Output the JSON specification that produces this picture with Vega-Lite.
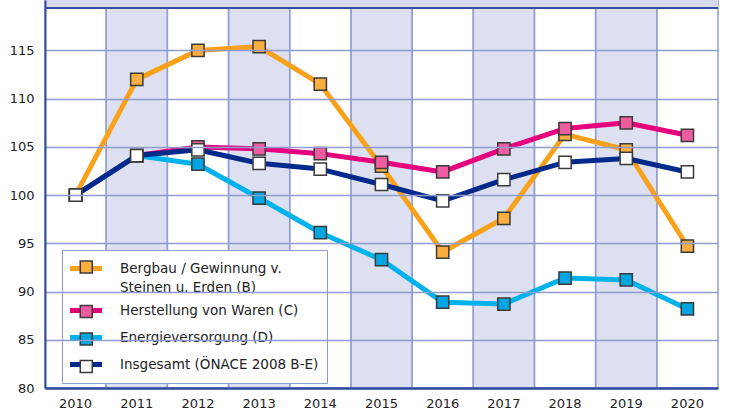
{
  "$schema": "https://vega.github.io/schema/vega-lite/v6.json",
  "width": 673,
  "height": 388,
  "autosize": {"type": "none"},
  "padding": {"left": 45, "top": 0, "right": 22, "bottom": 24},
  "background": "white",
  "config": {"view": {"stroke": null}, "font": "DejaVu Sans", "style": {"guide-label": {"lineHeight": 19}}},
  "datasets": {
    "years": [
      {"year": 2010}, {"year": 2011}, {"year": 2012}, {"year": 2013}, {"year": 2014}, {"year": 2015},
      {"year": 2016}, {"year": 2017}, {"year": 2018}, {"year": 2019}, {"year": 2020}
    ],
    "series": [
      {"year": 2010, "series": "Bergbau / Gewinnung v. Steinen u. Erden (B)", "value": 100},
      {"year": 2011, "series": "Bergbau / Gewinnung v. Steinen u. Erden (B)", "value": 112.0},
      {"year": 2012, "series": "Bergbau / Gewinnung v. Steinen u. Erden (B)", "value": 115.0},
      {"year": 2013, "series": "Bergbau / Gewinnung v. Steinen u. Erden (B)", "value": 115.4},
      {"year": 2014, "series": "Bergbau / Gewinnung v. Steinen u. Erden (B)", "value": 111.5},
      {"year": 2015, "series": "Bergbau / Gewinnung v. Steinen u. Erden (B)", "value": 103.0},
      {"year": 2016, "series": "Bergbau / Gewinnung v. Steinen u. Erden (B)", "value": 94.1},
      {"year": 2017, "series": "Bergbau / Gewinnung v. Steinen u. Erden (B)", "value": 97.6},
      {"year": 2018, "series": "Bergbau / Gewinnung v. Steinen u. Erden (B)", "value": 106.3},
      {"year": 2019, "series": "Bergbau / Gewinnung v. Steinen u. Erden (B)", "value": 104.7},
      {"year": 2020, "series": "Bergbau / Gewinnung v. Steinen u. Erden (B)", "value": 94.7},
      {"year": 2010, "series": "Herstellung von Waren (C)", "value": 100},
      {"year": 2011, "series": "Herstellung von Waren (C)", "value": 104.1},
      {"year": 2012, "series": "Herstellung von Waren (C)", "value": 105.0},
      {"year": 2013, "series": "Herstellung von Waren (C)", "value": 104.8},
      {"year": 2014, "series": "Herstellung von Waren (C)", "value": 104.3},
      {"year": 2015, "series": "Herstellung von Waren (C)", "value": 103.4},
      {"year": 2016, "series": "Herstellung von Waren (C)", "value": 102.4},
      {"year": 2017, "series": "Herstellung von Waren (C)", "value": 104.8},
      {"year": 2018, "series": "Herstellung von Waren (C)", "value": 106.9},
      {"year": 2019, "series": "Herstellung von Waren (C)", "value": 107.5},
      {"year": 2020, "series": "Herstellung von Waren (C)", "value": 106.2},
      {"year": 2010, "series": "Energieversorgung (D)", "value": 100},
      {"year": 2011, "series": "Energieversorgung (D)", "value": 104.1},
      {"year": 2012, "series": "Energieversorgung (D)", "value": 103.2},
      {"year": 2013, "series": "Energieversorgung (D)", "value": 99.7},
      {"year": 2014, "series": "Energieversorgung (D)", "value": 96.1},
      {"year": 2015, "series": "Energieversorgung (D)", "value": 93.3},
      {"year": 2016, "series": "Energieversorgung (D)", "value": 88.9},
      {"year": 2017, "series": "Energieversorgung (D)", "value": 88.7},
      {"year": 2018, "series": "Energieversorgung (D)", "value": 91.4},
      {"year": 2019, "series": "Energieversorgung (D)", "value": 91.2},
      {"year": 2020, "series": "Energieversorgung (D)", "value": 88.2},
      {"year": 2010, "series": "Insgesamt (ÖNACE 2008 B-E)", "value": 100},
      {"year": 2011, "series": "Insgesamt (ÖNACE 2008 B-E)", "value": 104.1},
      {"year": 2012, "series": "Insgesamt (ÖNACE 2008 B-E)", "value": 104.7},
      {"year": 2013, "series": "Insgesamt (ÖNACE 2008 B-E)", "value": 103.3},
      {"year": 2014, "series": "Insgesamt (ÖNACE 2008 B-E)", "value": 102.7},
      {"year": 2015, "series": "Insgesamt (ÖNACE 2008 B-E)", "value": 101.1},
      {"year": 2016, "series": "Insgesamt (ÖNACE 2008 B-E)", "value": 99.4},
      {"year": 2017, "series": "Insgesamt (ÖNACE 2008 B-E)", "value": 101.6},
      {"year": 2018, "series": "Insgesamt (ÖNACE 2008 B-E)", "value": 103.4},
      {"year": 2019, "series": "Insgesamt (ÖNACE 2008 B-E)", "value": 103.8},
      {"year": 2020, "series": "Insgesamt (ÖNACE 2008 B-E)", "value": 102.4}
    ]
  },
  "layer": [
    {
      "data": {"name": "years"},
      "mark": {"type": "rect", "fillOpacity": 0.27, "stroke": "#96a0d3", "strokeWidth": 1.5, "strokeOpacity": 1},
      "encoding": {
        "x": {
          "field": "year", "type": "ordinal",
          "scale": {"type": "band", "paddingInner": 0, "paddingOuter": 0},
          "axis": {"title": null, "labelAngle": 0, "ticks": false, "grid": false, "labelFontSize": 13, "labelColor": "#222222", "labelPadding": 9, "domainColor": "#2f4d9f", "domainWidth": 2.5, "zindex": 1}
        },
        "fill": {"condition": {"test": "datum.year % 2 == 1", "value": "#7c8ccc"}, "value": "transparent"}
      }
    },
    {
      "data": {"values": [{}]},
      "mark": {"type": "rect", "fill": "#d6daee"},
      "encoding": {"y": {"datum": 119.4, "type": "quantitative"}, "y2": {"datum": 120.23}}
    },
    {
      "data": {"values": [{}]},
      "mark": {"type": "rule", "stroke": "#2f4d9f", "strokeWidth": 2},
      "encoding": {"y": {"datum": 119.4, "type": "quantitative"}}
    },
    {
      "data": {"name": "series"},
      "mark": {"type": "line", "strokeWidth": 5, "strokeJoin": "round"},
      "encoding": {
        "x": {"field": "year", "type": "ordinal"},
        "y": {
          "field": "value", "type": "quantitative",
          "scale": {"domain": [80, 120.23], "nice": false, "zero": false},
          "axis": {"title": null, "values": [80, 85, 90, 95, 100, 105, 110, 115], "grid": true, "gridColor": "#909bd0", "gridWidth": 1.5, "ticks": false, "domainColor": "#2f4d9f", "domainWidth": 2, "labelFontSize": 13, "labelColor": "#222222", "labelPadding": 11, "zindex": 1}
        },
        "stroke": {
          "field": "series", "type": "nominal",
          "scale": {
            "domain": ["Bergbau / Gewinnung v. Steinen u. Erden (B)", "Herstellung von Waren (C)", "Energieversorgung (D)", "Insgesamt (ÖNACE 2008 B-E)"],
            "range": ["#f9a11b", "#e6007e", "#00b2ec", "#00298c"]
          },
          "legend": {
            "orient": "none", "legendX": 17, "legendY": 250, "title": null,
            "symbolType": "M-2,0H2", "symbolSize": 256, "symbolStrokeWidth": 5, "symbolOffset": 5.5,
            "labelFontSize": 13.5, "labelColor": "#222222", "labelOffset": 23.5, "labelLimit": 400,
            "fillColor": "white", "strokeColor": "#8f9bd0", "padding": 8, "rowPadding": 6,
            "labelExpr": "datum.label == 'Bergbau / Gewinnung v. Steinen u. Erden (B)' ? ['Bergbau / Gewinnung v.', 'Steinen u. Erden (B)'] : datum.label"
          }
        }
      }
    },
    {
      "data": {"name": "series"},
      "mark": {"type": "point", "shape": "square", "filled": true, "size": 150, "stroke": "#3a3a3a", "strokeWidth": 1.5, "opacity": 1, "strokeOpacity": 1},
      "encoding": {
        "x": {"field": "year", "type": "ordinal"},
        "y": {"field": "value", "type": "quantitative"},
        "fill": {
          "field": "series", "type": "nominal",
          "sort": ["Bergbau / Gewinnung v. Steinen u. Erden (B)", "Herstellung von Waren (C)", "Energieversorgung (D)", "Insgesamt (ÖNACE 2008 B-E)"],
          "scale": {"range": ["#fbae40", "#ef5ca0", "#00a6e2", "#ffffff"]},
          "legend": {
            "orient": "none", "legendX": 19, "legendY": 250, "title": null,
            "symbolType": "M-0.75,-0.75H0.75V0.75H-0.75Z", "symbolSize": 256, "symbolStrokeColor": "#3a3a3a", "symbolStrokeWidth": 1.5, "symbolOpacity": 1, "symbolOffset": 5.25,
            "labelFontSize": 13.5, "labelColor": "transparent", "labelOffset": 23.5, "labelLimit": 400,
            "padding": 8, "rowPadding": 9.5,
            "labelExpr": "datum.label == 'Bergbau / Gewinnung v. Steinen u. Erden (B)' ? [' ', ' '] : ' '"
          }
        }
      }
    }
  ]
}
